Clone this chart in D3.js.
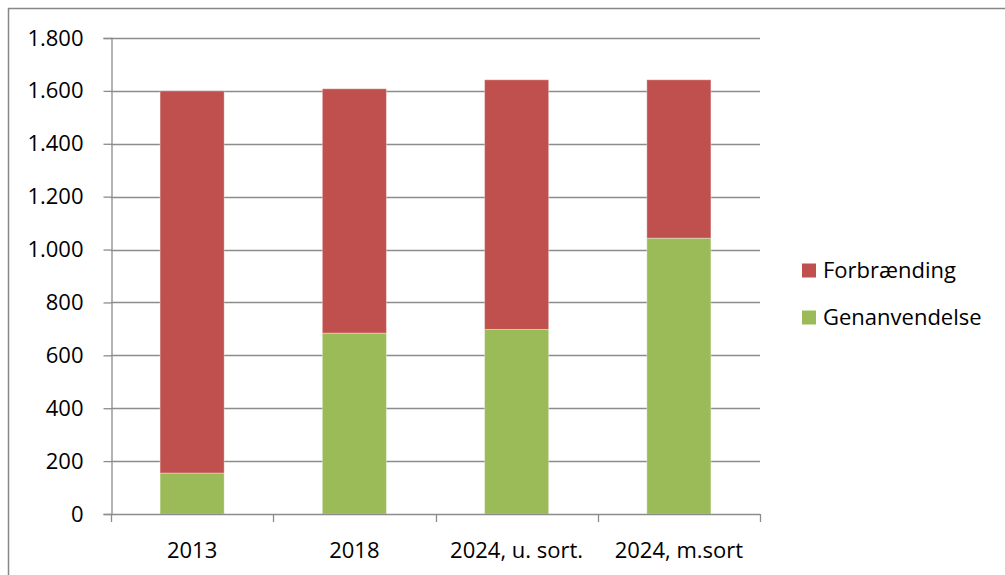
<!DOCTYPE html>
<html>
<head>
<meta charset="utf-8">
<script src="https://cdn.jsdelivr.net/npm/d3@7"></script>
<style>
	body { margin: 0; background: white; }
	text { font-family: "Open Sans", sans-serif; fill: #000; }
</style>
</head>
<body>
<script>
const categories = ["2013", "2018", "2024, u. sort.", "2024, m.sort"];
const genanvendelse = [155, 684, 698, 1043];
const forbraending = [1445, 924, 944, 599];
const seriesNames = ["Genanvendelse", "Forbrænding"];
const seriesColors = ["#9BBB59", "#C0504D"];
const yTicks = [0, 200, 400, 600, 800, 1000, 1200, 1400, 1600, 1800];

function init(){
	const svg = d3.select("body").append("svg")
		.attr("width", 1005)
		.attr("height", 575);

	// outer chart frame (right and bottom run off the page)
	svg.append("rect")
		.attr("x", 8.5)
		.attr("y", 8.5)
		.attr("width", 1010)
		.attr("height", 600)
		.attr("fill", "white")
		.attr("stroke", "#878787")
		.attr("stroke-width", 1.5);

	const left = 111, right = 760, top = 38, bottom = 514;
	const fontSize = 22;

	const x = d3.scaleBand()
		.domain(categories)
		.range([left, right])
		.paddingInner(0.605)
		.paddingOuter(0.3025);

	const y = d3.scaleLinear()
		.domain([0, 1800])
		.range([bottom, top]);

	const fmt = d => d3.format(",")(d).replace(/,/g, ".");

	// gridlines
	svg.append("g")
		.selectAll("line")
		.data(yTicks.filter(d => d > 0))
		.join("line")
		.attr("x1", left)
		.attr("x2", right)
		.attr("y1", d => Math.round(y(d)) + 0.5)
		.attr("y2", d => Math.round(y(d)) + 0.5)
		.attr("stroke", "#8c8c8c")
		.attr("stroke-width", 1.3);

	// stacked bars
	const rows = categories.map((c, i) => ({cat: c, Genanvendelse: genanvendelse[i], "Forbrænding": forbraending[i]}));
	const stack = d3.stack().keys(seriesNames)(rows);

	svg.append("g")
		.selectAll("g")
		.data(stack)
		.join("g")
		.attr("fill", (d, i) => seriesColors[i])
		.selectAll("rect")
		.data(d => d)
		.join("rect")
		.attr("x", d => x(d.data.cat))
		.attr("width", x.bandwidth())
		.attr("y", d => y(d[1]))
		.attr("height", d => y(d[0]) - y(d[1]))
		.attr("stroke", "white")
		.attr("stroke-opacity", 0.35)
		.attr("stroke-width", 1);

	// y axis
	const yAxis = svg.append("g")
		.attr("transform", `translate(${left + 0.5},0)`)
		.call(d3.axisLeft(y).tickValues(yTicks).tickFormat(fmt).tickSize(8).tickPadding(20));
	yAxis.select(".domain").attr("stroke", "#8c8c8c").attr("stroke-width", 1.3);
	yAxis.selectAll(".tick line").attr("stroke", "#8c8c8c").attr("stroke-width", 1.3);
	yAxis.selectAll(".tick text").attr("font-size", fontSize).attr("font-family", "'Open Sans', sans-serif").attr("fill", "#000");

	// x axis
	const xEdges = d3.range(categories.length + 1).map(i => left + i * (right - left) / categories.length);
	svg.append("line")
		.attr("x1", left).attr("x2", right)
		.attr("y1", bottom + 0.5).attr("y2", bottom + 0.5)
		.attr("stroke", "#8c8c8c").attr("stroke-width", 1.3);
	svg.append("g")
		.selectAll("line")
		.data(xEdges)
		.join("line")
		.attr("x1", d => Math.round(d) + 0.5)
		.attr("x2", d => Math.round(d) + 0.5)
		.attr("y1", bottom)
		.attr("y2", bottom + 8)
		.attr("stroke", "#8c8c8c")
		.attr("stroke-width", 1.3);
	svg.append("g")
		.selectAll("text")
		.data(categories)
		.join("text")
		.attr("x", d => x(d) + x.bandwidth() / 2)
		.attr("y", 558)
		.attr("text-anchor", "middle")
		.attr("font-size", fontSize)
		.text(d => d);

	// legend
	const legendItems = [{name: "Forbrænding", color: seriesColors[1]}, {name: "Genanvendelse", color: seriesColors[0]}];
	const legend = svg.append("g")
		.selectAll("g")
		.data(legendItems)
		.join("g")
		.attr("transform", (d, i) => `translate(802,${263.5 + i * 47})`);
	legend.append("rect")
		.attr("width", 14)
		.attr("height", 14)
		.attr("fill", d => d.color);
	legend.append("text")
		.attr("x", 21)
		.attr("y", 14.5)
		.attr("font-size", fontSize)
		.text(d => d.name);
}
init();
</script>
</body>
</html>
